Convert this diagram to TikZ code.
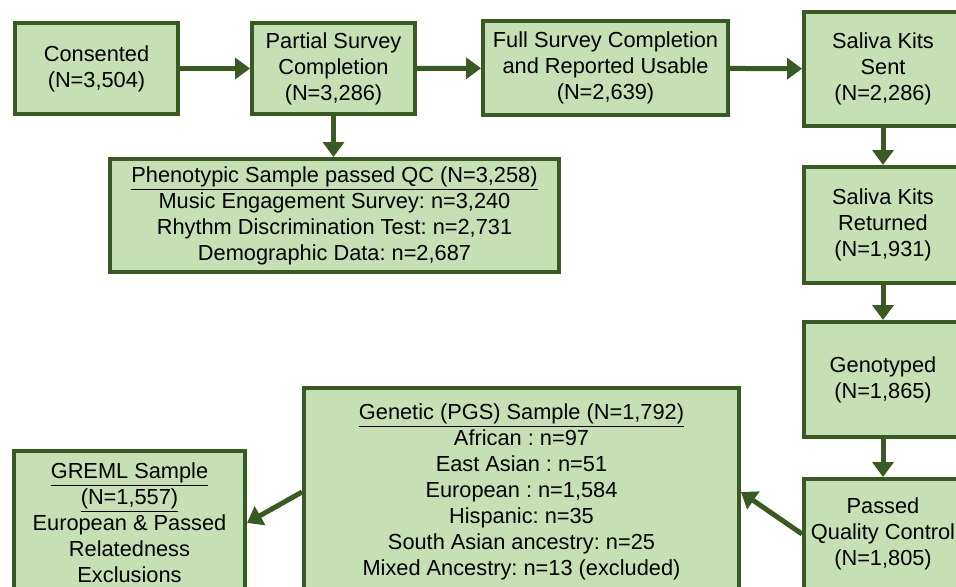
\documentclass[tikz,border=0pt]{standalone}
\usepackage{fontspec}
\setmainfont{Liberation Sans}
\frenchspacing
\usetikzlibrary{arrows.meta}
\definecolor{boxfill}{HTML}{C5E0B4}
\definecolor{boxline}{HTML}{3A5A24}
\begin{document}
\begin{tikzpicture}[x=0.02cm, y=-0.02cm,
    box/.style={draw=boxline, fill=boxfill, line width=0.07cm, inner sep=0pt, align=center,
        font=\fontsize{12.4}{14.8}\selectfont},
    flow/.style={draw=boxline, line width=0.1cm, -{Triangle[length=0.3cm, width=0.42cm]}}]
    \useasboundingbox (0,0) rectangle (956,587);
    \clip (0,0) rectangle (956,587);
    \node [box, minimum width=3.27cm, minimum height=1.83cm] (cons) at (96.5,68.5) {Consented\\(N=3,504)};
    \node [box, minimum width=3.27cm, minimum height=1.83cm] (part) at (333.5,68.5) {Partial Survey\\Completion\\(N=3,286)};
    \node [box, minimum width=4.91cm, minimum height=1.89cm] (full) at (605.5,68) {Full Survey Completion\\and Reported Usable\\(N=2,639)};
    \node [box, minimum width=3.17cm, minimum height=2.29cm] (sent) at (883,69) {Saliva Kits\\Sent\\(N=2,286)};
    \node [box, minimum width=3.17cm, minimum height=2.33cm] (ret) at (883,225) {Saliva Kits\\Returned\\(N=1,931)};
    \node [box, minimum width=3.17cm, minimum height=2.31cm] (geno) at (883,379.5) {Genotyped\\(N=1,865)};
    \node [box, minimum width=3.17cm, minimum height=2.21cm] (qc) at (883,534) {Passed\\Quality Control\\(N=1,805)};
    \node [box, minimum width=8.99cm, minimum height=2.27cm] (phen) at (334.5,215.5)
        {\underline{Phenotypic Sample passed QC (N=3,258)}\\Music Engagement Survey: n=3,240\\Rhythm Discrimination Test: n=2,731\\Demographic Data: n=2,687};
    \node [box, minimum width=8.71cm, minimum height=4.17cm] (gen) at (521.5,492)
        {\underline{Genetic (PGS) Sample (N=1,792)}\\African : n=97\\East Asian : n=51\\European : n=1,584\\Hispanic: n=35\\South Asian ancestry: n=25\\Mixed Ancestry: n=13 (excluded)};
    \node [box, minimum width=4.63cm, minimum height=2.89cm] (greml) at (129.5,523)
        {\underline{GREML Sample}\\\underline{(N=1,557)}\\European \& Passed\\Relatedness\\Exclusions};
    \draw [flow] (cons) -- (part);
    \draw [flow] (part) -- (full);
    \draw [flow] (full) -- (sent);
    \draw [flow] (part.south) -- (part.south |- phen.north);
    \draw [flow] (sent) -- (ret);
    \draw [flow] (ret) -- (geno);
    \draw [flow] (geno) -- (qc);
    \draw [flow] (qc.west) -- (gen.east);
    \draw [flow] (gen.west) -- (greml.east);
\end{tikzpicture}
\end{document}
